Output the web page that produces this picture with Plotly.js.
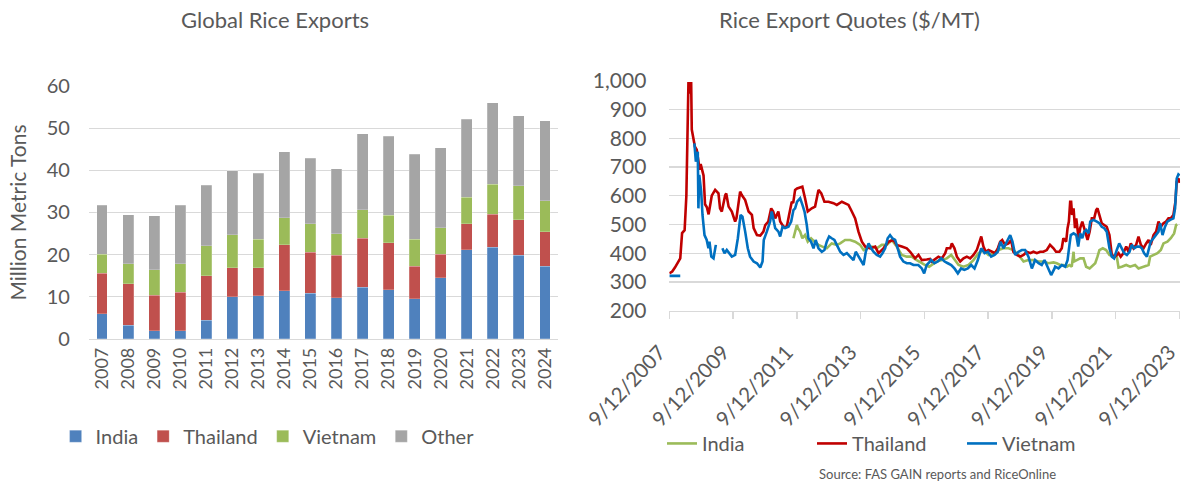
<!DOCTYPE html>
<html>
<head>
<meta charset="utf-8">
<script src="https://cdn.plot.ly/plotly-3.0.1.min.js"></script>
<style>
html,body{margin:0;padding:0;background:#fff;}
#chart{width:1183px;height:482px;}
</style>
</head>
<body>
<div id="chart"></div>
<script>
// ---- Left chart: Global Rice Exports (million metric tons) ----
const years = ['2007','2008','2009','2010','2011','2012','2013','2014','2015','2016','2017','2018','2019','2020','2021','2022','2023','2024'];
const indiaExports    = [6.0,3.2,1.9,2.0,4.4,10.0,10.3,11.4,10.8,9.8,12.3,11.7,9.6,14.5,21.2,21.8,19.8,17.3];
const thailandExports = [9.6,9.9,8.5,9.1,10.6,6.9,6.6,10.9,9.8,10.0,11.6,11.1,7.6,5.6,6.1,7.8,8.5,8.1];
const vietnamExports  = [4.5,4.8,6.0,6.8,7.1,7.8,6.8,6.5,6.7,5.1,6.7,6.6,6.5,6.3,6.3,7.1,8.0,7.4];
const otherExports    = [11.6,11.6,12.8,13.8,14.3,15.2,15.6,15.6,15.6,15.5,18.1,18.7,20.1,18.9,18.5,19.3,16.6,19.0];

// ---- Right chart: Rice export quotes ($/MT), [date, value] ----
const indiaQuotes = [
['2011-08-04',452],['2011-09-12',498],['2011-09-25',487],['2011-10-20',475],['2011-11-14',452],['2011-12-15',463],
['2012-01-15',440],['2012-02-22',452],['2012-04-01',440],['2012-05-17',429],['2012-07-01',423],['2012-08-20',417],
['2012-10-15',434],['2012-12-13',429],['2013-01-21',434],['2013-03-18',446],['2013-05-15',446],['2013-07-11',440],
['2013-09-06',429],['2013-10-16',411],['2013-11-22',417],['2014-01-19',423],['2014-03-16',417],['2014-05-12',429],
['2014-07-08',429],['2014-09-04',446],['2014-10-30',423],['2014-12-27',394],['2015-02-23',388],['2015-04-20',388],
['2015-06-17',376],['2015-08-14',365],['2015-09-12',360],['2015-11-06',353],['2015-12-10',359],['2016-02-01',371],
['2016-03-31',376],['2016-05-26',382],['2016-07-16',394],['2016-08-29',376],['2016-10-08',359],['2016-12-04',353],
['2017-01-30',359],['2017-03-28',376],['2017-05-24',400],['2017-07-20',411],['2017-09-16',394],['2017-11-12',400],
['2018-01-08',411],['2018-03-07',417],['2018-05-03',417],['2018-06-28',411],['2018-08-26',394],['2018-10-23',371],
['2018-12-18',376],['2019-02-13',376],['2019-04-13',371],['2019-06-08',371],['2019-08-04',365],['2019-10-01',368],
['2019-11-07',365],['2019-12-16',359],['2020-01-22',359],['2020-03-02',353],['2020-04-01',359],['2020-04-27',353],
['2020-05-18',405],['2020-05-25',371],['2020-06-25',376],['2020-08-02',382],['2020-09-09',382],['2020-10-09',353],
['2020-11-18',347],['2020-12-25',359],['2021-01-21',365],['2021-02-16',388],['2021-03-10',411],['2021-04-18',417],
['2021-05-26',411],['2021-07-03',394],['2021-08-18',388],['2021-09-25',388],['2021-10-15',350],['2021-11-21',353],
['2022-01-11',359],['2022-02-25',353],['2022-04-23',359],['2022-06-01',347],['2022-07-28',353],['2022-09-24',359],
['2022-10-12',388],['2022-11-20',394],['2023-01-04',400],['2023-02-12',411],['2023-03-14',434],['2023-04-28',440],
['2023-06-06',452],['2023-07-14',469],['2023-08-06',498],['2023-08-20',500]
];
const thailandQuotes = [
['2007-09-12',330],['2007-10-15',336],['2007-11-15',350],['2007-12-15',367],['2008-01-15',382],['2008-02-05',470],
['2008-03-05',480],['2008-03-25',600],['2008-04-08',850],['2008-04-18',995],['2008-05-01',955],['2008-05-19',995],
['2008-05-26',830],['2008-06-15',800],['2008-07-01',770],['2008-07-22',760],['2008-08-10',720],['2008-08-25',690],
['2008-09-05',710],['2008-10-08',670],['2008-10-25',570],['2008-11-15',560],['2008-12-05',535],['2009-01-10',600],
['2009-02-18',620],['2009-03-28',608],['2009-04-15',556],['2009-05-05',545],['2009-06-13',602],['2009-06-25',608],
['2009-07-22',562],['2009-08-28',545],['2009-10-05',510],['2009-10-20',522],['2009-12-01',614],['2009-12-20',602],
['2010-01-28',585],['2010-03-08',545],['2010-04-15',533],['2010-05-05',487],['2010-06-12',463],['2010-07-20',461],
['2010-08-25',475],['2010-09-15',498],['2010-10-20',510],['2010-11-22',556],['2010-12-15',545],['2011-01-07',521],
['2011-02-12',545],['2011-03-05',510],['2011-04-12',492],['2011-05-20',492],['2011-06-15',533],['2011-07-16',579],
['2011-08-01',574],['2011-08-23',620],['2011-09-15',625],['2011-11-14',631],['2011-12-15',591],['2012-01-15',545],
['2012-03-01',556],['2012-04-08',562],['2012-05-17',620],['2012-06-18',608],['2012-07-24',579],['2012-09-09',579],
['2012-11-05',574],['2012-12-13',568],['2013-02-09',579],['2013-04-26',568],['2013-06-03',545],['2013-07-11',521],
['2013-08-18',475],['2013-09-26',440],['2013-11-03',423],['2013-12-31',417],['2014-02-26',423],['2014-04-05',400],
['2014-06-01',417],['2014-07-28',440],['2014-09-23',446],['2014-10-30',429],['2014-12-27',423],['2015-02-23',417],
['2015-04-02',405],['2015-05-29',382],['2015-07-07',394],['2015-08-14',376],['2015-10-09',378],['2015-11-17',380],
['2015-12-06',371],['2016-01-22',382],['2016-02-20',388],['2016-03-31',382],['2016-05-08',400],['2016-05-26',417],
['2016-07-05',417],['2016-07-23',434],['2016-08-22',417],['2016-09-19',388],['2016-10-27',371],['2016-12-04',382],
['2017-01-11',388],['2017-02-18',382],['2017-03-28',394],['2017-05-05',411],['2017-06-03',440],['2017-06-25',458],
['2017-07-20',423],['2017-08-16',405],['2017-09-16',411],['2017-10-23',405],['2017-12-01',400],['2018-01-01',417],
['2018-01-28',440],['2018-02-20',446],['2018-03-25',429],['2018-05-03',434],['2018-06-03',446],['2018-06-28',405],
['2018-08-07',394],['2018-09-13',388],['2018-10-23',394],['2018-11-28',405],['2019-01-08',400],['2019-02-13',405],
['2019-03-24',400],['2019-05-01',405],['2019-06-07',405],['2019-07-16',411],['2019-08-22',429],['2019-10-01',417],
['2019-10-30',405],['2019-12-08',405],['2020-01-04',417],['2020-01-22',452],['2020-02-23',440],['2020-03-10',487],
['2020-03-25',510],['2020-04-09',579],['2020-04-20',579],['2020-05-01',533],['2020-05-18',556],['2020-06-03',487],
['2020-06-18',521],['2020-07-14',452],['2020-08-02',487],['2020-08-26',510],['2020-09-17',487],['2020-10-09',463],
['2020-10-25',446],['2020-11-18',475],['2020-12-13',521],['2021-01-09',521],['2021-02-01',550],['2021-02-16',556],
['2021-03-10',533],['2021-04-06',504],['2021-05-04',498],['2021-06-02',492],['2021-07-03',463],['2021-07-30',394],
['2021-09-06',388],['2021-10-15',400],['2021-11-09',388],['2021-12-10',400],['2022-01-11',423],['2022-02-06',405],
['2022-03-05',434],['2022-04-05',417],['2022-05-05',429],['2022-06-01',458],['2022-06-28',429],['2022-07-28',417],
['2022-08-28',434],['2022-09-24',446],['2022-10-19',429],['2022-11-20',463],['2022-12-20',475],['2023-01-16',510],
['2023-02-12',492],['2023-03-14',504],['2023-04-13',510],['2023-05-10',521],['2023-06-06',521],['2023-07-06',533],
['2023-07-29',579],['2023-08-13',649],['2023-09-01',660],['2023-09-16',645]
];
const vietnamQuotes = [
['2007-09-12',321],['2007-10-15',321],['2007-11-15',321],['2007-12-15',321],['2008-01-15',321],['2008-03-01',null],
['2008-06-25',782],['2008-07-12',718],['2008-08-03',753],['2008-08-10',556],['2008-08-20',672],['2008-09-11',614],
['2008-09-26',533],['2008-10-19',463],['2008-11-13',446],['2008-12-03',417],['2008-12-15',440],['2009-01-05',388],
['2009-01-30',382],['2009-02-26',429],['2009-03-20',null],['2009-05-12',417],['2009-06-05',400],['2009-07-01',411],
['2009-07-25',400],['2009-08-28',388],['2009-10-05',394],['2009-11-05',452],['2009-12-06',533],['2009-12-28',527],
['2010-01-28',475],['2010-02-27',417],['2010-03-25',388],['2010-05-05',371],['2010-06-12',365],['2010-07-20',350],
['2010-08-15',371],['2010-08-29',446],['2010-10-03',475],['2010-11-10',510],['2010-11-28',545],['2011-01-07',487],
['2011-02-13',475],['2011-03-05',458],['2011-04-01',492],['2011-04-30',487],['2011-06-08',492],['2011-07-09',510],
['2011-08-04',550],['2011-08-23',556],['2011-09-15',579],['2011-10-20',591],['2011-11-15',568],['2011-12-09',545],
['2012-01-04',498],['2012-01-22',452],['2012-02-22',440],['2012-03-21',417],['2012-04-15',446],['2012-05-17',417],
['2012-06-24',405],['2012-07-24',411],['2012-08-20',440],['2012-09-16',458],['2012-10-15',452],['2012-11-15',446],
['2012-12-13',429],['2013-01-21',405],['2013-02-28',394],['2013-04-07',400],['2013-05-15',388],['2013-06-22',376],
['2013-07-18',405],['2013-08-18',388],['2013-09-26',371],['2013-10-16',359],['2013-11-10',405],['2013-12-12',434],
['2014-01-11',417],['2014-02-06',405],['2014-03-16',394],['2014-04-23',388],['2014-05-20',400],['2014-06-20',417],
['2014-07-19',452],['2014-08-15',463],['2014-09-11',452],['2014-10-12',446],['2014-11-11',417],['2014-12-08',388],
['2015-01-15',371],['2015-02-23',365],['2015-04-02',365],['2015-05-10',359],['2015-07-05',359],['2015-08-14',347],
['2015-09-10',330],['2015-10-09',359],['2015-11-17',371],['2015-11-27',376],['2016-01-06',365],['2016-02-13',371],
['2016-03-24',382],['2016-05-01',371],['2016-06-07',365],['2016-07-16',359],['2016-08-22',347],['2016-09-30',330],
['2016-11-06',347],['2016-12-14',342],['2017-01-22',347],['2017-03-01',359],['2017-04-09',347],['2017-05-17',376],
['2017-06-25',417],['2017-08-02',400],['2017-09-09',405],['2017-10-16',388],['2017-11-25',394],['2018-01-01',405],
['2018-02-01',440],['2018-03-07',417],['2018-04-15',440],['2018-05-23',463],['2018-06-18',440],['2018-07-19',394],
['2018-08-26',405],['2018-10-03',411],['2018-11-10',411],['2018-12-18',388],['2019-01-26',347],['2019-03-04',376],
['2019-04-13',365],['2019-05-19',359],['2019-06-20',376],['2019-07-28',347],['2019-09-04',324],['2019-10-13',347],
['2019-10-20',353],['2019-11-27',347],['2020-01-04',359],['2020-02-12',353],['2020-03-10',376],['2020-04-01',429],
['2020-04-16',463],['2020-05-18',469],['2020-06-18',463],['2020-07-10',423],['2020-08-02',469],['2020-08-26',452],
['2020-09-17',475],['2020-10-09',481],['2020-11-06',469],['2020-11-25',510],['2021-01-01',516],['2021-02-09',510],
['2021-03-10',504],['2021-04-06',492],['2021-05-04',487],['2021-06-02',475],['2021-07-03',417],['2021-07-30',388],
['2021-08-25',382],['2021-09-25',411],['2021-10-23',434],['2021-11-21',417],['2021-12-19',400],['2022-01-19',394],
['2022-02-18',405],['2022-03-16',429],['2022-04-13',417],['2022-05-12',423],['2022-06-13',423],['2022-07-09',417],
['2022-08-05',400],['2022-09-05',388],['2022-09-27',417],['2022-10-19',440],['2022-11-20',452],['2022-12-20',463],
['2023-01-16',475],['2023-02-04',504],['2023-03-03',463],['2023-04-01',492],['2023-04-28',510],['2023-05-30',516],
['2023-07-06',521],['2023-07-25',556],['2023-08-13',660],['2023-09-01',674],['2023-09-16',670]
];
const quoteTicks = ['2007-09-12','2009-09-12','2011-09-12','2013-09-12','2015-09-12','2017-09-12','2019-09-12','2021-09-12','2023-09-12'];

const FONT = 'Lato, "Open Sans", sans-serif';
const TXT = '#595959';
const GRID = '#d9d9d9';

function bar(name, vals, color) {
  return {type:'bar', name:name, x:years, y:vals, xaxis:'x', yaxis:'y',
    marker:{color:color, line:{color:'rgba(255,255,255,0.35)', width:0.6}}, legend:'legend'};
}
function line(name, pts, color) {
  return {type:'scatter', mode:'lines', name:name,
    x:pts.map(p=>p[0]), y:pts.map(p=>p[1]), xaxis:'x2', yaxis:'y2',
    connectgaps:false, line:{color:color, width:2.6}, legend:'legend2'};
}

const data = [
  bar('India', indiaExports, '#4F81BD'),
  bar('Thailand', thailandExports, '#C0504D'),
  bar('Vietnam', vietnamExports, '#9BBB59'),
  bar('Other', otherExports, '#A5A5A5'),
  line('India', indiaQuotes, '#9BBB59'),
  line('Thailand', thailandQuotes, '#C00000'),
  line('Vietnam', vietnamQuotes, '#0070C0')
];

const layout = {
  width:1183, height:482,
  margin:{l:0, r:0, t:0, b:0},
  paper_bgcolor:'#fff', plot_bgcolor:'#fff',
  font:{family:FONT, color:TXT, size:18},
  barmode:'stack', bargap:0.58,
  showlegend:true,
  xaxis:{domain:[0.0752,0.4717], type:'category', tickangle:-90,
    tickfont:{size:18, color:TXT}, showgrid:false, showline:true, linecolor:GRID, linewidth:1.5,
    ticks:'', automargin:false, fixedrange:true},
  yaxis:{domain:[0.2967,0.8216], range:[0,60], dtick:10, showgrid:true, gridcolor:GRID, gridwidth:1.3,
    zeroline:false, ticks:'', tickfont:{size:20, color:TXT}, ticklabelstandoff:18,
    title:{text:'Million Metric Tons', font:{size:21, color:TXT}, standoff:14}, automargin:false},
  xaxis2:{domain:[0.5658,0.9975], type:'date', range:['2007-09-12','2023-09-20'],
    tickvals:quoteTicks, tickformat:'%-m/%-d/%Y', tickangle:-47, tickfont:{size:20.5, color:TXT},
    ticklabeloverflow:'allow', ticklabelstandoff:13, ticklabelshift:-10,
    showgrid:false, showline:true, linecolor:GRID, linewidth:1.5, ticks:'outside', ticklen:7,
    tickcolor:GRID, tickwidth:1.5, automargin:false, anchor:'y2'},
  yaxis2:{domain:[0.3554,0.8326], range:[200,1000], dtick:100, tickformat:',d', showgrid:true,
    gridcolor:GRID, gridwidth:1.3, zeroline:false, ticks:'', tickfont:{size:21, color:TXT},
    ticklabelstandoff:22, automargin:false, anchor:'x2'},
  legend:{orientation:'h', x:0.047, y:0.095, xanchor:'left', yanchor:'middle',
    font:{size:20, color:TXT}, traceorder:'normal', bgcolor:'rgba(0,0,0,0)'},
  legend2:{orientation:'h', x:0.5596, y:0.08, xanchor:'left', yanchor:'middle',
    font:{size:20, color:TXT}, traceorder:'normal', bgcolor:'rgba(0,0,0,0)', entrywidth:105},
  annotations:[
    {text:'Global Rice Exports', xref:'paper', yref:'paper', x:0.2325, y:0.96, xanchor:'center', yanchor:'middle',
      showarrow:false, font:{size:22, color:TXT}},
    {text:'Rice Export Quotes ($/MT)', xref:'paper', yref:'paper', x:0.718, y:0.96, xanchor:'center', yanchor:'middle',
      showarrow:false, font:{size:22, color:TXT}},
    {text:'Source: FAS GAIN reports and RiceOnline', xref:'paper', yref:'paper', x:0.7925, y:0.017, xanchor:'center', yanchor:'middle',
      showarrow:false, font:{size:13, color:TXT}}
  ]
};

Plotly.newPlot('chart', data, layout, {staticPlot:true, displayModeBar:false});
</script>
</body>
</html>
